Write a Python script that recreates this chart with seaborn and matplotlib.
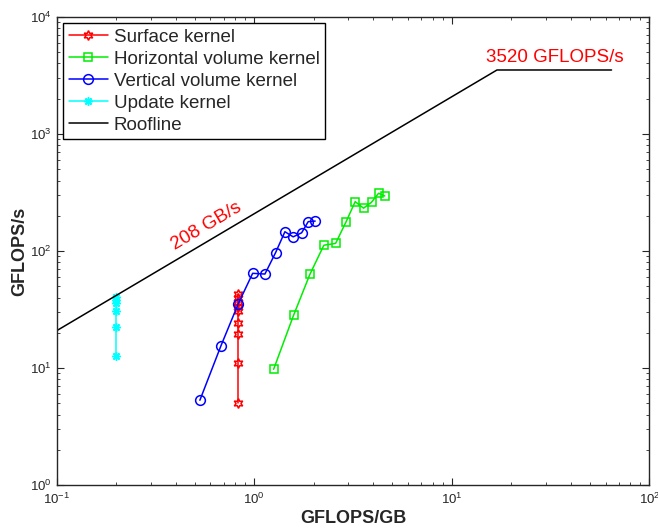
import numpy as np
import pandas as pd
import matplotlib
matplotlib.use("Agg")
import matplotlib.pyplot as plt
import seaborn as sns

# ---- data ----
surface_x = [0.83, 0.83, 0.83, 0.83, 0.83, 0.83, 0.83, 0.83, 0.83]
surface_y = [5.0, 11.1, 19.6, 24.1, 30.7, 33.1, 36.5, 39.6, 42.8]

horiz_x = [1.254, 1.582, 1.914, 2.252, 2.581, 2.910, 3.243, 3.575, 3.925, 4.258, 4.58]
horiz_y = [9.75, 28.2, 63.2, 112, 116, 176, 264, 232, 261, 311, 295]

vert_x = [0.531, 0.679, 0.830, 0.982, 1.133, 1.283, 1.43, 1.575, 1.738, 1.876, 2.035]
vert_y = [5.3, 15.5, 35.3, 64.4, 63.5, 96.8, 146, 132, 143, 178, 180]

update_x = [0.2, 0.2, 0.2, 0.2, 0.2, 0.2]
update_y = [12.7, 22.5, 30.7, 35.7, 38.1, 40.6]

bandwidth = 208.0      # GB/s
peak = 3520.0          # GFLOPS/s
roof_x = [0.1, peak / bandwidth, 64.3]
roof_y = [bandwidth * 0.1, peak, peak]

labels = ["Surface kernel", "Horizontal volume kernel", "Vertical volume kernel",
          "Update kernel", "Roofline"]

# ---- style ----
sns.set_style("ticks")
plt.rcParams["font.family"] = ["Liberation Sans", "DejaVu Sans"]
plt.rcParams["mathtext.fontset"] = "custom"
plt.rcParams["mathtext.rm"] = "Liberation Sans"
plt.rcParams["mathtext.it"] = "Liberation Sans:italic"
plt.rcParams["mathtext.bf"] = "Liberation Sans:bold"

fig = plt.figure(figsize=(6.58, 5.29), dpi=100)
ax = fig.add_axes([0.086, 0.0832, 0.901, 0.8848])

series = [
    (surface_x, surface_y, "red", (6, 1, 0), 7),
    (horiz_x, horiz_y, "#00ee00", "s", 6),
    (vert_x, vert_y, "blue", "o", 7),
    (update_x, update_y, "cyan", (8, 2, 0), 6),
]
for (xs, ys, c, m, ms), lab in zip(series, labels):
    df = pd.DataFrame({"x": xs, "y": ys})
    sns.lineplot(data=df, x="x", y="y", ax=ax, estimator=None, sort=False,
                 color=c, marker=m, markersize=ms, markerfacecolor="none",
                 markeredgecolor=c, markeredgewidth=1.1, linewidth=1.1, label=lab)

rdf = pd.DataFrame({"x": roof_x, "y": roof_y})
sns.lineplot(data=rdf, x="x", y="y", ax=ax, estimator=None, sort=False,
             color="black", linewidth=1.1, label=labels[4])

ax.set_xscale("log")
ax.set_yscale("log")
ax.set_xlim(0.1, 100)
ax.set_ylim(1, 10000)

ax.tick_params(which="both", direction="in", top=True, right=True, labelsize=9.5)
ax.tick_params(axis="x", which="major", pad=5)
ax.tick_params(which="major", length=5, width=0.8)
ax.tick_params(which="minor", length=2.5, width=0.6)
for s in ax.spines.values():
    s.set_linewidth(1.0)

ax.set_xlabel("GFLOPS/GB", fontsize=13, fontweight="bold", labelpad=2)
ax.set_ylabel("GFLOPS/s", fontsize=13, fontweight="bold", labelpad=1)

ax.text(0.6, 208 * 0.6 * 1.12, "208 GB/s", color="red", fontsize=13.5,
        rotation=30.6, rotation_mode="anchor", ha="center", va="bottom")
ax.text(33.2, peak * 1.08, "3520 GFLOPS/s", color="red", fontsize=13.5,
        ha="center", va="bottom")

leg = ax.legend(loc="upper left", bbox_to_anchor=(0.0108, 0.987), borderaxespad=0,
                fontsize=13.5, frameon=True, fancybox=False, edgecolor="black",
                framealpha=1, handlelength=2.1, handletextpad=0.3,
                labelspacing=0.26, borderpad=0.3)
leg.get_frame().set_linewidth(1.0)

fig.savefig("out.png", dpi=100)
